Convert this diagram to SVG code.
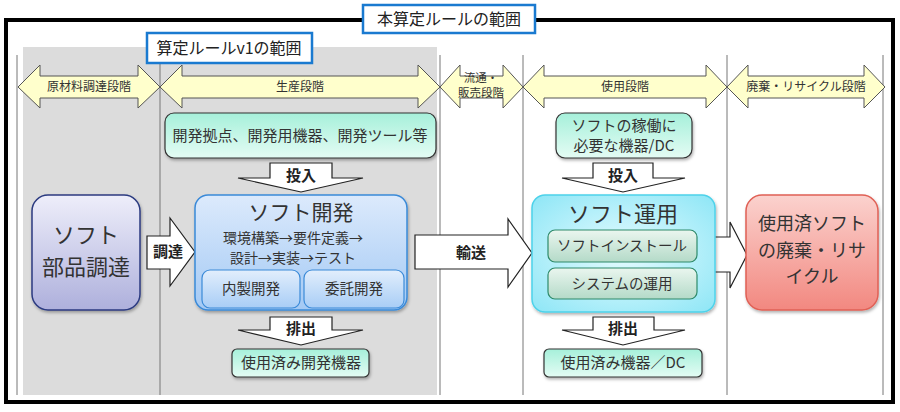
<svg xmlns="http://www.w3.org/2000/svg" width="900" height="412" viewBox="0 0 900 412">
<defs>
<linearGradient id="gMint" x1="0" y1="0" x2="0" y2="1"><stop offset="0" stop-color="#a6f0da"/><stop offset="1" stop-color="#e4fcf4"/></linearGradient>
<linearGradient id="gBlue" x1="0" y1="0" x2="0" y2="1"><stop offset="0" stop-color="#dceafc"/><stop offset="1" stop-color="#a3c9f4"/></linearGradient>
<linearGradient id="gBlueSub" x1="0" y1="0" x2="0" y2="1"><stop offset="0" stop-color="#e2eefc"/><stop offset="1" stop-color="#a8cdf6"/></linearGradient>
<linearGradient id="gLav" x1="0" y1="0" x2="0" y2="1"><stop offset="0" stop-color="#eeeefa"/><stop offset="1" stop-color="#aeb0dc"/></linearGradient>
<radialGradient id="gCyan" cx="0.5" cy="0.5" r="0.7"><stop offset="0" stop-color="#e6fcff"/><stop offset="1" stop-color="#8ee6f6"/></radialGradient>
<linearGradient id="gGreenSub" x1="0" y1="0" x2="0" y2="1"><stop offset="0" stop-color="#eaf6ef"/><stop offset="1" stop-color="#b4dac8"/></linearGradient>
<linearGradient id="gRed" x1="0" y1="0" x2="0" y2="1"><stop offset="0" stop-color="#fbd2ce"/><stop offset="1" stop-color="#f28880"/></linearGradient>
<filter id="sh" x="-10%" y="-10%" width="120%" height="130%"><feDropShadow dx="1" dy="2" stdDeviation="1.5" flood-color="#000" flood-opacity="0.3"/></filter>
<style>
text{font-family:"Noto Sans CJK JP","Noto Sans",sans-serif;fill:#333;text-anchor:middle;}
.phase{fill:#ffffcc;stroke:#555;stroke-width:1;}
.ph{font-size:12px;}
.sep{stroke:#777;stroke-width:1;fill:none;}
.blk{fill:#fff;stroke:#222;stroke-width:1.2;}
.bl{font-size:15px;font-weight:bold;fill:#222;}
.mint{fill:url(#gMint);stroke:#333;stroke-width:1.2;}
.t15{font-size:15px;}
.t14{font-size:14.5px;}
.title{fill:#fff;stroke:#1a7ad0;stroke-width:2.5;}
</style>
</defs>
<rect x="0" y="0" width="900" height="412" fill="#fff"/>
<rect x="23" y="47" width="414" height="348" fill="#dcdcdc"/>
<rect x="6" y="20" width="887" height="382" fill="none" stroke="#000" stroke-width="4"/>
<g id="separators">
<line class="sep" x1="17" y1="55" x2="17" y2="395"/>
<line class="sep" x1="160" y1="55" x2="160" y2="395"/>
<line class="sep" x1="440" y1="55" x2="440" y2="395"/>
<line class="sep" x1="523" y1="55" x2="523" y2="395"/>
<line class="sep" x1="727" y1="55" x2="727" y2="395"/>
<line class="sep" x1="883" y1="55" x2="883" y2="395"/>
</g>
<g id="title-main"><rect class="title" x="363" y="5" width="172" height="28"/><text x="449" y="25" style="font-size:16px;fill:#222">本算定ルールの範囲</text></g>
<g id="title-v1"><rect class="title" x="147" y="33" width="165" height="30"/><text x="229" y="54" style="font-size:16px;fill:#222">算定ルールv1の範囲</text></g>
<g id="phase-raw"><polygon class="phase" points="18,87 40,65 40,76 138,76 138,65 160,87 138,108 138,98 40,98 40,108"/><text class="ph" x="89" y="91">原材料調達段階</text></g>
<g id="phase-prod"><polygon class="phase" points="160,87 182,65 182,76 418,76 418,65 440,87 418,108 418,98 182,98 182,108"/><text class="ph" x="300" y="91">生産段階</text></g>
<g id="phase-dist"><polygon class="phase" points="440,87 460,65 460,76 503,76 503,65 523,87 503,108 503,98 460,98 460,108"/><text style="font-size:11.5px"><tspan x="481" y="82">流通・</tspan><tspan x="481" y="97">販売段階</tspan></text></g>
<g id="phase-use"><polygon class="phase" points="523,87 544,65 544,76 706,76 706,65 727,87 706,108 706,98 544,98 544,108"/><text class="ph" x="625" y="91">使用段階</text></g>
<g id="phase-eol"><polygon class="phase" points="727,87 748,65 748,76 864,76 864,65 885,87 864,108 864,98 748,98 748,108"/><text class="ph" x="806" y="91">廃棄・リサイクル段階</text></g>
<g id="connectors">
<g id="arr-chotatsu"><polygon class="blk" points="147,236 170,236 170,218 195,252 170,286 170,269 147,269"/><text class="bl" x="168" y="257">調達</text></g>
<g id="arr-yuso"><polygon class="blk" points="415,235 508,235 508,219 532,253 508,287 508,269 415,269"/><text class="bl" x="471" y="258">輸送</text></g>
<g id="arr-eol"><polygon class="blk" points="710,237 730,237 730,222 747,255 730,288 730,272 710,272"/></g>
<g id="arr-tonyu1"><polygon class="blk" points="270,163 332,163 332,178 363,178 301,192 238,178 270,178"/><text class="bl" x="301" y="181">投入</text></g>
<g id="arr-haishutsu1"><polygon class="blk" points="270,317 332,317 332,330 363,330 301,345 238,330 270,330"/><text class="bl" x="301" y="334">排出</text></g>
<g id="arr-tonyu2"><polygon class="blk" points="593,163 653,163 653,178 685,178 623,192 562,178 593,178"/><text class="bl" x="623" y="181">投入</text></g>
<g id="arr-haishutsu2"><polygon class="blk" points="593,317 654,317 654,330 685,330 623,345 562,330 593,330"/><text class="bl" x="623" y="334">排出</text></g>
</g>
<g id="node-devres"><rect class="mint" x="165" y="113" width="271" height="45" rx="9" filter="url(#sh)"/><text class="t15" x="300" y="141">開発拠点、開発用機器、開発ツール等</text></g>
<g id="node-parts"><rect x="32" y="195" width="108" height="115" rx="16" fill="url(#gLav)" stroke="#2b3a80" stroke-width="1.5" filter="url(#sh)"/><text style="font-size:22px"><tspan x="86" y="243">ソフト</tspan><tspan x="86" y="275">部品調達</tspan></text></g>
<g id="node-dev"><rect x="195" y="195" width="212" height="115" rx="13" fill="url(#gBlue)" stroke="#3a8ad8" stroke-width="1.5" filter="url(#sh)"/>
<text x="301" y="220" style="font-size:21px">ソフト開発</text>
<text style="font-size:14px"><tspan x="293" y="242.5">環境構築→要件定義→</tspan><tspan x="293" y="263">設計→実装→テスト</tspan></text>
<g id="node-inhouse"><rect x="202" y="270" width="98" height="38" rx="8" fill="url(#gBlueSub)" stroke="#3a8ad8" stroke-width="1.2"/><text class="t14" x="251" y="294">内製開発</text></g>
<g id="node-outsource"><rect x="304" y="270" width="100" height="38" rx="8" fill="url(#gBlueSub)" stroke="#3a8ad8" stroke-width="1.2"/><text class="t14" x="354" y="294">委託開発</text></g>
</g>
<g id="node-useddev"><rect class="mint" x="232" y="349" width="137" height="28" rx="5" filter="url(#sh)"/><text class="t15" x="301" y="368">使用済み開発機器</text></g>
<g id="node-opres"><rect class="mint" x="556" y="113" width="136" height="45" rx="9" filter="url(#sh)"/><text class="t15"><tspan x="624" y="131">ソフトの稼働に</tspan><tspan x="624" y="151">必要な機器/DC</tspan></text></g>
<g id="node-op"><rect x="532" y="195" width="183" height="117" rx="13" fill="url(#gCyan)" stroke="#4dd2ea" stroke-width="1.5" filter="url(#sh)"/>
<text x="623" y="222" style="font-size:22px">ソフト運用</text>
<g id="node-install"><rect x="548" y="230" width="149" height="32" rx="7" fill="url(#gGreenSub)" stroke="#2e8a6a" stroke-width="1.2"/><text class="t14" x="622" y="251">ソフトインストール</text></g>
<g id="node-sysop"><rect x="548" y="268" width="149" height="31" rx="7" fill="url(#gGreenSub)" stroke="#2e8a6a" stroke-width="1.2"/><text class="t14" x="622" y="289">システムの運用</text></g>
</g>
<g id="node-usedop"><rect class="mint" x="544" y="349" width="158" height="28" rx="5" filter="url(#sh)"/><text class="t15" x="623" y="368">使用済み機器／DC</text></g>
<g id="node-eol"><rect x="746" y="195" width="132" height="115" rx="16" fill="url(#gRed)" stroke="#e06055" stroke-width="1.5" filter="url(#sh)"/><text style="font-size:18px"><tspan x="812" y="230">使用済ソフト</tspan><tspan x="812" y="256.5">の廃棄・リサ</tspan><tspan x="812" y="283">イクル</tspan></text></g>
</svg>
